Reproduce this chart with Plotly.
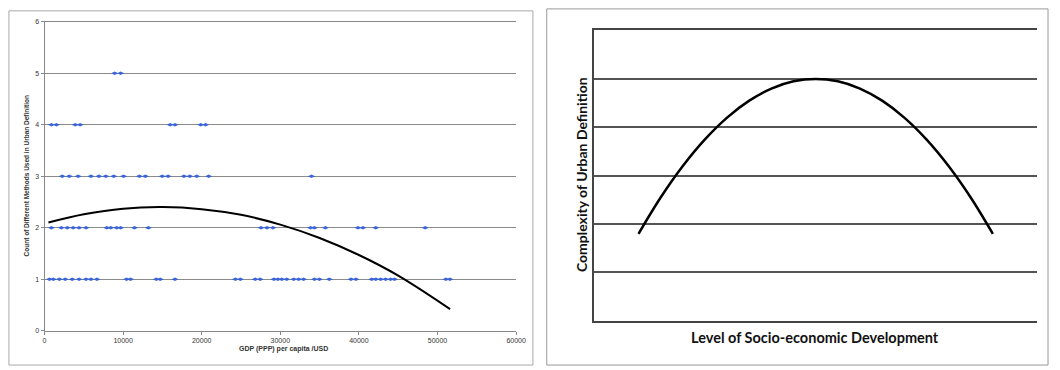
import plotly.graph_objects as go

# ---- Left panel data: GDP (PPP) per capita vs count of methods ----
gdp_count1 = [630, 1130, 1890, 2640, 3520, 4400, 5280, 5910, 6670, 10440, 10950,
              14220, 14720, 16600, 24280, 24910, 26800, 27430, 29190, 29690, 30190,
              30820, 31700, 32330, 32960, 34340, 34970, 36230, 38990, 39620, 41630,
              42140, 42770, 43400, 44030, 44530, 51070, 51580]
gdp_count2 = [880, 2140, 2890, 3650, 4400, 5280, 7930, 8430, 9180, 9690, 11450, 13210,
              27550, 28300, 29060, 33840, 34340, 35730, 39880, 40510, 42140, 48430]
gdp_count3 = [2260, 3150, 4280, 5910, 6920, 7800, 8810, 10060, 12080, 12830, 14970,
              15720, 17740, 18490, 19370, 20880, 33970]
gdp_count4 = [880, 1510, 3900, 4530, 15980, 16600, 19880, 20500]
gdp_count5 = [8930, 9690]

trend_x = [500, 5000, 10000, 15000, 20000, 25000, 30000, 35000, 40000, 45000, 51600]
trend_y = [2.10, 2.26, 2.37, 2.40, 2.36, 2.25, 2.06, 1.80, 1.47, 1.07, 0.42]

left_xticks = [0, 10000, 20000, 30000, 40000, 50000, 60000]
left_xticklabels = ["0", "10000", "20000", "30000", "40000", "50000", "60000"]
left_yticks = [0, 1, 2, 3, 4, 5, 6]

# ---- Right panel data: conceptual curve ----
dev_x = [1.0, 1.5, 2.0, 2.5, 3.0, 3.5, 4.0, 4.5, 5.0, 5.5, 6.0, 6.5, 7.0, 7.5, 8.0, 8.5, 9.0]
complexity_y = [1.8, 2.55, 3.2, 3.75, 4.2, 4.55, 4.8, 4.95, 5.0, 4.95, 4.8, 4.55, 4.2, 3.75, 3.2, 2.55, 1.8]

fig = go.Figure()

blue = "#3a64d8"
for xs, c in [(gdp_count1, 1), (gdp_count2, 2), (gdp_count3, 3), (gdp_count4, 4), (gdp_count5, 5)]:
    fig.add_trace(go.Scatter(x=xs, y=[c] * len(xs), mode="markers",
                             marker=dict(symbol="diamond-wide", size=5, color=blue),
                             xaxis="x", yaxis="y", showlegend=False, hoverinfo="skip"))

fig.add_trace(go.Scatter(x=trend_x, y=trend_y, mode="lines",
                         line=dict(color="black", width=2, shape="spline"),
                         xaxis="x", yaxis="y", showlegend=False))

fig.add_trace(go.Scatter(x=dev_x, y=complexity_y, mode="lines",
                         line=dict(color="black", width=2.5, shape="spline"),
                         xaxis="x2", yaxis="y2", showlegend=False))

W, H = 1060, 370
fig.update_layout(
    width=W, height=H,
    margin=dict(l=0, r=0, t=0, b=0),
    paper_bgcolor="white", plot_bgcolor="white",
    font=dict(family="Liberation Sans, Arial", color="#333"),
    xaxis=dict(domain=[43 / W, 520 / W], range=[0, 60000], tickvals=left_xticks,
               ticktext=left_xticklabels,
               showgrid=False, showline=True, mirror=True, linecolor="#888", linewidth=1,
               ticks="outside", ticklen=3, tickcolor="#888",
               tickfont=dict(size=7, color="#333"), zeroline=False, anchor="y"),
    yaxis=dict(domain=[(H - 333) / H, (H - 18) / H], range=[0, 6], tickvals=left_yticks,
               showgrid=True, gridcolor="#8a8a8a", gridwidth=1,
               showline=True, linecolor="#888", linewidth=1,
               ticks="outside", ticklen=3, tickcolor="#888",
               tickfont=dict(size=7, color="#333"), zeroline=False, anchor="x"),
    xaxis2=dict(domain=[599 / W, 1047 / W], range=[0, 10], showticklabels=False,
                showgrid=False, showline=True, mirror=True, linecolor="#444", linewidth=1.5,
                zeroline=False, anchor="y2"),
    yaxis2=dict(domain=[(H - 323) / H, (H - 27) / H], range=[0, 6], dtick=1,
                showticklabels=False, showgrid=True, gridcolor="#555", gridwidth=1.5,
                showline=True, linecolor="#444", linewidth=1.5, zeroline=False, anchor="x2"),
    shapes=[
        dict(type="rect", xref="paper", yref="paper", x0=7 / W, x1=537 / W,
             y0=(H - 368) / H, y1=(H - 7) / H, line=dict(color="#aaa", width=1)),
        dict(type="rect", xref="paper", yref="paper", x0=551 / W, x1=1058 / W,
             y0=(H - 368) / H, y1=(H - 5) / H, line=dict(color="#999", width=1)),
    ],
    annotations=[
        dict(text="<b>Count of Different Methods Used in Urban Definition</b>",
             xref="paper", yref="paper", x=25 / W, y=(H - 175) / H, textangle=-90,
             showarrow=False, font=dict(size=6.5, color="#333"), xanchor="center", yanchor="middle"),
        dict(text="<b>GDP (PPP) per capita /USD</b>",
             xref="paper", yref="paper", x=285 / W, y=(H - 352) / H,
             showarrow=False, font=dict(size=7, color="#333"), xanchor="center", yanchor="middle"),
        dict(text="Complexity of Urban Definition",
             xref="paper", yref="paper", x=586 / W, y=(H - 174) / H, textangle=-90,
             showarrow=False, font=dict(family="Lato", size=14, weight=700, color="#111"),
             xanchor="center", yanchor="middle"),
        dict(text="Level of Socio-economic Development",
             xref="paper", yref="paper", x=822 / W, y=(H - 340) / H,
             showarrow=False, font=dict(family="Lato", size=14.5, weight=700, color="#111"),
             xanchor="center", yanchor="middle"),
    ],
)

fig.write_html("out.html")
